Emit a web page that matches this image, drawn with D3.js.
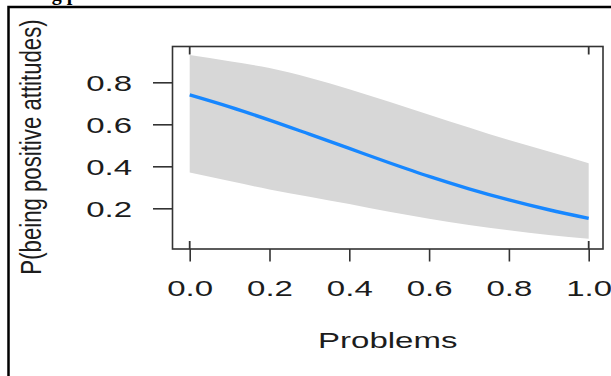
<!DOCTYPE html>
<html>
<head>
<meta charset="utf-8">
<script src="https://cdn.jsdelivr.net/npm/d3@7/dist/d3.min.js"></script>
<style>
  html, body { margin: 0; padding: 0; background: #fff; }
  svg { display: block; }
</style>
</head>
<body>
<div id="chart"></div>
<script>
// Predicted probability with confidence band, by Problems
const problems = [0, 0.1, 0.2, 0.3, 0.4, 0.5, 0.6, 0.7, 0.8, 0.9, 1.0];
const fitted   = [0.74, 0.683, 0.62, 0.553, 0.485, 0.417, 0.352, 0.293, 0.24, 0.193, 0.152];
const upper    = [0.93, 0.90, 0.868, 0.822, 0.767, 0.707, 0.646, 0.585, 0.525, 0.47, 0.415];
const lower    = [0.37, 0.33, 0.29, 0.255, 0.22, 0.183, 0.15, 0.12, 0.095, 0.073, 0.055];
const rugValues = [0, 1];
const xTicks = [0, 0.2, 0.4, 0.6, 0.8, 1.0];
const yTicks = [0.2, 0.4, 0.6, 0.8];

const W = 611, H = 376;
const stretch = 1.5;   // wide text rendering of the figure
const svg = d3.select("#chart").append("svg").attr("width", W).attr("height", H);

const x = d3.scaleLinear().domain([0, 1]).range([189.7, 588.7]);
const y = d3.scaleLinear().domain([0, 1]).range([250.3, 40.3]);

const box = { left: 172.5, top: 46.5, right: 603, bottom: 249 };

// page frame and clipped heading above the figure
svg.append("path")
  .attr("d", `M8.5,${H} V7 H${W}`)
  .attr("fill", "none").attr("stroke", "#000").attr("stroke-width", 2.5);
svg.append("text")
  .attr("x", 35).attr("y", -0.5)
  .attr("font-family", "Liberation Serif, serif").attr("font-weight", "bold")
  .attr("font-size", 20).attr("fill", "#000")
  .text("ing p");

const rows = problems.map((p, i) => ({ p, fit: fitted[i], hi: upper[i], lo: lower[i] }));

// confidence band
svg.append("path")
  .datum(rows)
  .attr("fill", "#d7d7d7")
  .attr("d", d3.area().curve(d3.curveMonotoneX).x(d => x(d.p)).y0(d => y(d.lo)).y1(d => y(d.hi)));

// fitted curve
svg.append("path")
  .datum(rows)
  .attr("fill", "none").attr("stroke", "#1787ff").attr("stroke-width", 3.4)
  .attr("stroke-linejoin", "round")
  .attr("d", d3.line().curve(d3.curveMonotoneX).x(d => x(d.p)).y(d => y(d.fit)));

// plot box
svg.append("rect")
  .attr("x", box.left).attr("y", box.top)
  .attr("width", box.right - box.left).attr("height", box.bottom - box.top)
  .attr("fill", "none").attr("stroke", "#333").attr("stroke-width", 1.6);

// rug marks at observed values
const rug = svg.append("g").attr("stroke", "#333").attr("stroke-width", 1.8);
rugValues.forEach(v => {
  rug.append("line").attr("x1", x(v)).attr("x2", x(v)).attr("y1", box.bottom - 8).attr("y2", box.bottom);
  rug.append("line").attr("x1", x(v)).attr("x2", x(v)).attr("y1", box.top).attr("y2", box.top + 8);
});

const labelFont = "Liberation Sans, Arial, sans-serif";

// x axis
const gx = svg.append("g")
  .attr("transform", `translate(0,${box.bottom})`)
  .call(d3.axisBottom(x).tickValues(xTicks).tickFormat(d3.format(".1f")).tickSize(12.5).tickSizeOuter(0));
gx.select(".domain").remove();
gx.selectAll(".tick line").attr("stroke", "#333").attr("stroke-width", 1.6);
gx.selectAll(".tick text")
  .attr("y", 0).attr("dy", 0)
  .attr("transform", `translate(0,47) scale(${stretch},1)`)
  .attr("font-family", labelFont).attr("font-size", 22).attr("fill", "#1c1c1c");

// y axis
const gy = svg.append("g")
  .attr("transform", `translate(${box.left},0)`)
  .call(d3.axisLeft(y).tickValues(yTicks).tickFormat(d3.format(".1f")).tickSize(19.5).tickSizeOuter(0));
gy.select(".domain").remove();
gy.selectAll(".tick line").attr("stroke", "#333").attr("stroke-width", 1.6);
gy.selectAll(".tick text")
  .attr("x", 0).attr("dy", "0.36em")
  .attr("transform", `translate(-40.5,0) scale(${stretch},1)`)
  .attr("text-anchor", "end")
  .attr("font-family", labelFont).attr("font-size", 22).attr("fill", "#1c1c1c");

// axis titles
svg.append("text")
  .attr("transform", `translate(${(box.left + box.right) / 2},348) scale(${stretch},1)`)
  .attr("text-anchor", "middle")
  .attr("font-family", labelFont).attr("font-size", 22).attr("fill", "#1c1c1c")
  .text("Problems");

svg.append("text")
  .attr("transform", `translate(40.5,147) scale(1.3,1) rotate(-90)`)
  .attr("text-anchor", "middle")
  .attr("font-family", labelFont).attr("font-size", 22.2).attr("fill", "#1c1c1c")
  .text("P(being positive attitudes)");
</script>
</body>
</html>
